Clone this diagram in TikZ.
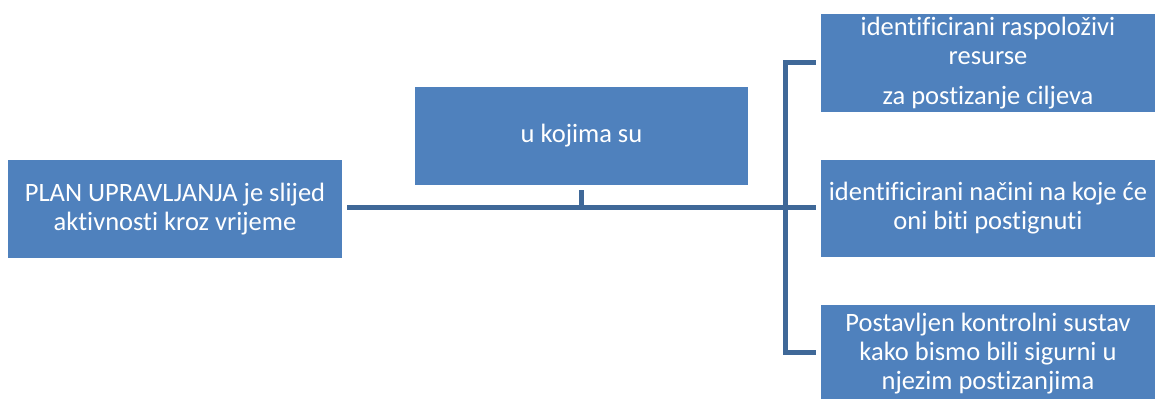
\documentclass[tikz,border=0pt]{standalone}
\usepackage{fontspec}
\setmainfont{Carlito}[Ligatures=NoCommon]
\definecolor{boxblue}{HTML}{4F81BD}
\definecolor{lineblue}{HTML}{3F6898}
\begin{document}
\begin{tikzpicture}[x=1pt,y=1pt,
  bx/.style={fill=boxblue, draw=none, text=white, minimum width=334pt, minimum height=98pt,
    inner sep=0pt, align=center, font=\fontsize{26.5}{29}\selectfont},
  conn/.style={draw=lineblue, line width=5pt}]
\useasboundingbox (0,0) rectangle (1157,399);
\clip (0,0) rectangle (1157,399);
\node[bx] (L) at (175,190) {PLAN UPRAVLJANJA je slijed\\aktivnosti kroz vrijeme};
\node[bx, minimum width=333pt] (M) at (581.5,263) {u kojima su};
\node[bx] (R1) at (988,336) {identificirani raspoloživi\\resurse\\[11pt]za postizanje ciljeva};
\node[bx, minimum height=97pt] (R2) at (988,190.5) {identificirani načini na koje će\\oni biti postignuti};
\node[bx] (R3) at (988,45) {Postavljen kontrolni sustav\\kako bismo bili sigurni u\\njezim postizanjima};
\coordinate (J) at (785,191);
\coordinate (T) at (785,336);
\coordinate (B) at (785,46);
\draw[conn] ([xshift=5pt]L.east |- J) -- (J) -- ([xshift=-5pt]R2.west |- J);
\draw[conn] ([yshift=-5pt]M.south) -- (M.south |- J);
\draw[conn] ([xshift=-5pt]R1.west) -- (T) -- (B) -- ([xshift=-5pt]R3.west |- B);
\end{tikzpicture}
\end{document}
